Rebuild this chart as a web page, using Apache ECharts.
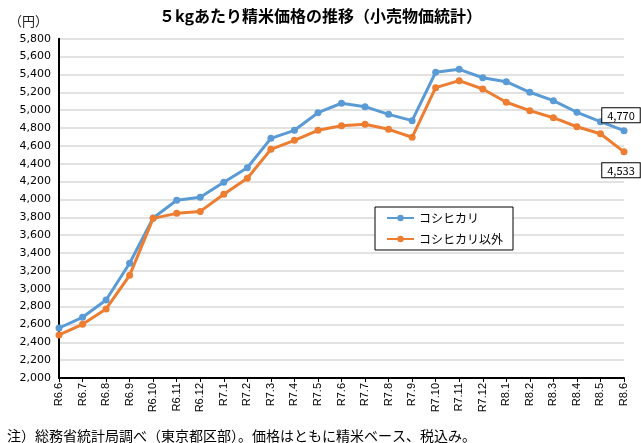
<!DOCTYPE html>
<html>
<head>
    <meta charset="utf-8" />
    <title>ECharts</title>
    <script src="https://cdn.jsdelivr.net/npm/echarts@6/dist/echarts.min.js"></script>
    <style>
        html, body { margin: 0; padding: 0; background: #fff; }
    </style>
</head>
<body>
    <div id="main" style="width: 641px;height:443px;"></div>
    <script type="text/javascript">
        // 月（令和）
        var months = ['R6.6', 'R6.7', 'R6.8', 'R6.9', 'R6.10', 'R6.11', 'R6.12',
            'R7.1', 'R7.2', 'R7.3', 'R7.4', 'R7.5', 'R7.6', 'R7.7', 'R7.8', 'R7.9', 'R7.10', 'R7.11', 'R7.12',
            'R8.1', 'R8.2', 'R8.3', 'R8.4', 'R8.5', 'R8.6'];
        // コシヒカリ（円/5kg）
        var koshi = [2560, 2680, 2874, 3285, 3792, 3990, 4025,
            4192, 4355, 4684, 4774, 4971, 5077, 5039, 4953, 4882, 5424, 5457, 5363,
            5318, 5200, 5106, 4976, 4871, 4770];
        // コシヒカリ以外（円/5kg）
        var other = [2482, 2601, 2773, 3150, 3788, 3844, 3866,
            4057, 4237, 4561, 4662, 4774, 4826, 4841, 4785, 4696, 5252, 5330, 5237,
            5088, 4994, 4915, 4814, 4736, 4533];
        var yMin = 2000, yMax = 5800, yStep = 200;

        var jp = '"Noto Sans CJK JP", sans-serif';
        var lastIdx = months.length - 1;

        // 最後の月だけ値ラベルを付ける
        function withLastLabel(arr, pos, off) {
            return arr.map(function (v, i) {
                if (i !== lastIdx) return v;
                return {
                    value: v,
                    label: {
                        show: true,
                        position: pos,
                        offset: off,
                        distance: 4,
                        color: '#000',
                        fontSize: 11,
                        fontFamily: jp,
                        backgroundColor: '#fff',
                        borderColor: '#000',
                        borderWidth: 1,
                        padding: [2, 5, 1, 5],
                        formatter: function (p) { return p.value.toLocaleString('en-US'); }
                    }
                };
            });
        }

        var myChart = echarts.init(document.getElementById('main'));
        var option = {
            animation: false,
            textStyle: { fontFamily: jp },
            title: [
                {
                    text: '５kgあたり精米価格の推移（小売物価統計）',
                    left: 'center',
                    top: 3,
                    textStyle: { fontSize: 16, fontWeight: 'bold', color: '#000', fontFamily: jp }
                },
                {
                    text: '（円）',
                    left: 4,
                    top: 10,
                    textStyle: { fontSize: 13, fontWeight: 'normal', color: '#222', fontFamily: jp }
                },
                {
                    text: '注）総務省統計局調べ（東京都区部）。価格はともに精米ベース、税込み。',
                    left: 2,
                    top: 424,
                    textStyle: { fontSize: 14, fontWeight: 'normal', color: '#000', fontFamily: jp }
                }
            ],
            legend: {
                orient: 'vertical',
                left: 375,
                top: 207,
                data: ['コシヒカリ', 'コシヒカリ以外'],
                backgroundColor: '#fff',
                borderColor: '#000',
                borderWidth: 1,
                padding: [5, 10, 5, 11],
                itemGap: 9,
                itemWidth: 27,
                itemHeight: 8,
                textStyle: { fontSize: 12, color: '#000', fontFamily: jp }
            },
            grid: { left: 59, right: 17, top: 38.7, bottom: 65, containLabel: false },
            xAxis: {
                type: 'category',
                data: months,
                boundaryGap: false,
                axisLine: { lineStyle: { color: '#000', width: 2 } },
                axisTick: { show: true, length: 4, lineStyle: { color: '#000' } },
                axisLabel: {
                    rotate: 90, interval: 0, fontSize: 11, color: '#000',
                    fontFamily: '"Liberation Sans", sans-serif', margin: 5
                },
                splitLine: { show: false }
            },
            yAxis: {
                type: 'value',
                min: yMin,
                max: yMax,
                interval: yStep,
                axisLine: { show: true, lineStyle: { color: '#000', width: 2 } },
                axisTick: { show: false },
                axisLabel: {
                    fontSize: 11, color: '#000', margin: 8,
                    fontFamily: '"DejaVu Sans", sans-serif',
                    formatter: function (v) { return v.toLocaleString('en-US'); }
                },
                splitLine: { lineStyle: { color: '#d9d9d9', width: 1.5 } }
            },
            series: [
                {
                    name: 'コシヒカリ',
                    type: 'line',
                    data: withLastLabel(koshi, 'top', [-3, -1]),
                    color: '#5B9BD5',
                    symbol: 'circle',
                    symbolSize: 7,
                    lineStyle: { width: 3 }
                },
                {
                    name: 'コシヒカリ以外',
                    type: 'line',
                    data: withLastLabel(other, 'bottom', [-3, 4]),
                    color: '#ED7D31',
                    symbol: 'circle',
                    symbolSize: 7,
                    lineStyle: { width: 3 }
                }
            ]
        };
        myChart.setOption(option);
    </script>
</body>
</html>
